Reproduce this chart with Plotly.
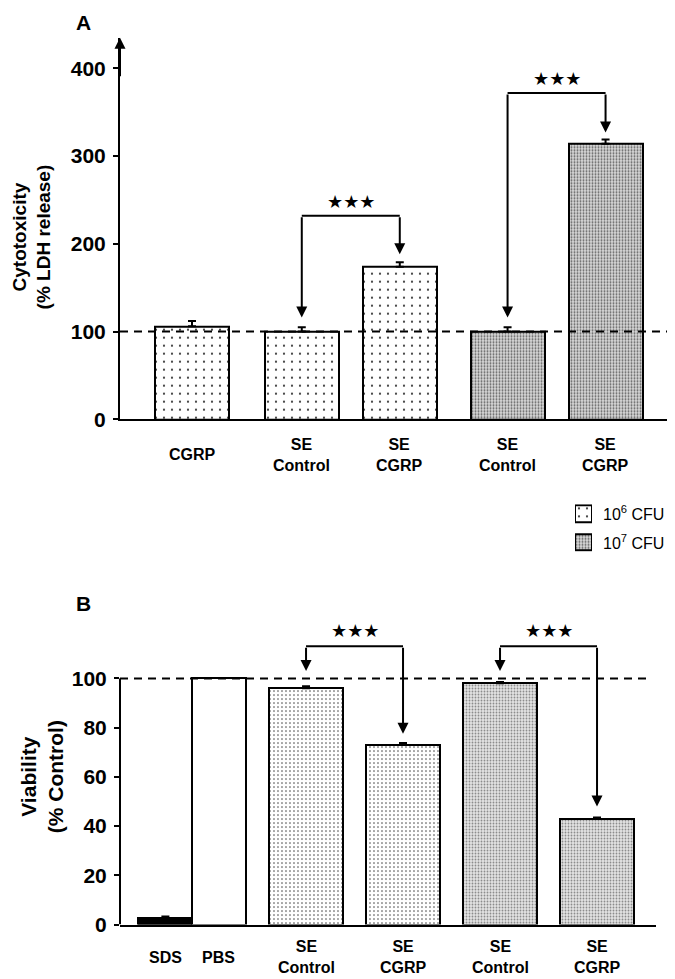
import plotly.graph_objects as go

# ---------------- data ----------------
a_labels = ["CGRP", "SE<br>Control", "SE<br>CGRP", "SE<br>Control", "SE<br>CGRP"]
a_values = [106, 100, 174, 100, 314]
a_errors = [6, 5, 5, 5, 5]
a_dose = ["6", "6", "6", "7", "7"]

b_labels = ["SDS", "PBS", "SE<br>Control", "SE<br>CGRP", "SE<br>Control", "SE<br>CGRP"]
b_values = [2.5, 100, 96, 73, 98, 43]
b_errors = [0.8, 0, 0.8, 0.8, 0.5, 0.5]
b_kind = ["sds", "pbs", "6", "6", "7", "7"]

legend_doses = ["6", "7"]

# ---------------- layout helpers (positions, not data) ----------------
W, H = 675, 979
a_pos = [0, 1.12, 2.12, 3.22, 4.22]
a_width = 0.755
b_pos = [0.55, 1.1, 2, 3, 4, 5]
b_width = [0.557, 0.557, 0.77, 0.77, 0.77, 0.77]

FONT = "Liberation Sans, Arial, sans-serif"


def py(p):
    return 1 - p / H


def px(p):
    return p / W


fig = go.Figure()

styles_a = {
    "6": dict(color="white", pattern=dict(shape=".", size=8, solidity=0.06,
                                          fgcolor="#222", bgcolor="white", fillmode="replace")),
    "7": dict(color="#c0c0c0", pattern=dict(shape=".", size=3, solidity=0.35,
                                            fgcolor="#5e5e5e", bgcolor="#dadada", fillmode="replace")),
}
styles_b = {
    "sds": dict(color="black"),
    "pbs": dict(color="white"),
    "6": dict(color="white", pattern=dict(shape=".", size=4, solidity=0.12,
                                          fgcolor="#333", bgcolor="white", fillmode="replace")),
    "7": dict(color="#d0d0d0", pattern=dict(shape=".", size=3, solidity=0.3,
                                            fgcolor="#8a8a8a", bgcolor="#e4e4e4", fillmode="replace")),
}

# Panel A bars
for dose in ["6", "7"]:
    idx = [i for i, d in enumerate(a_dose) if d == dose]
    fig.add_trace(go.Bar(
        x=[a_pos[i] for i in idx], y=[a_values[i] for i in idx],
        width=a_width, xaxis="x", yaxis="y", showlegend=False,
        marker=dict(line=dict(color="black", width=2), **styles_a[dose]),
        error_y=dict(type="data", symmetric=False, array=[a_errors[i] for i in idx],
                     arrayminus=[0] * len(idx), color="black", thickness=2, width=4),
    ))

# Panel B bars
for kind in ["sds", "pbs", "6", "7"]:
    idx = [i for i, d in enumerate(b_kind) if d == kind]
    fig.add_trace(go.Bar(
        x=[b_pos[i] for i in idx], y=[b_values[i] for i in idx],
        width=[b_width[i] for i in idx], xaxis="x2", yaxis="y2", showlegend=False,
        marker=dict(line=dict(color="black", width=2), **styles_b[kind]),
        error_y=dict(type="data", symmetric=False, array=[b_errors[i] for i in idx],
                     arrayminus=[0] * len(idx), color="black", thickness=2, width=4,
                     visible=any(b_errors[i] > 0 for i in idx)),
    ))

# Legend swatches (patterned boxes on a small hidden axis)
for k, dose in enumerate(legend_doses):
    fig.add_trace(go.Bar(
        x=[0], y=[17], base=[30 - 29 * k], width=1, xaxis="x3", yaxis="y3", showlegend=False,
        marker=dict(line=dict(color="black", width=2), **styles_a[dose]),
        hoverinfo="skip",
    ))

shapes = []
annotations = []

# dashed reference lines
shapes.append(dict(type="line", xref="x domain", yref="y", x0=0, x1=1, y0=100, y1=100,
                   line=dict(color="black", width=2, dash="8px,6px")))
shapes.append(dict(type="line", xref="x2 domain", yref="y2", x0=0, x1=(640 - 112) / (648 - 112),
                   y0=100, y1=100, line=dict(color="black", width=2, dash="8px,6px")))
# panel B y-axis line (only up to 100)
shapes.append(dict(type="line", xref="x2 domain", yref="y2", x0=0, x1=0, y0=0, y1=100,
                   line=dict(color="black", width=2)))

# y-axis arrow for panel A
annotations.append(dict(xref="x domain", yref="y domain", x=0, y=1, ax=0, ay=40,
                        axref="pixel", ayref="pixel", text="", showarrow=True,
                        arrowhead=2, arrowwidth=2, arrowsize=1.1, arrowcolor="black"))


def add_bracket(xr, yr, x0, x1, level, tip0, tip1, star_shift):
    shapes.append(dict(type="line", xref=xr, yref=yr, x0=x0, x1=x1, y0=level, y1=level,
                       line=dict(color="black", width=2)))
    for xx, tip in [(x0, tip0), (x1, tip1)]:
        annotations.append(dict(xref=xr, yref=yr, x=xx, y=tip, ax=xx, ay=level,
                                axref=xr, ayref=yr, text="", showarrow=True,
                                arrowhead=2, arrowwidth=2, arrowsize=1.1, arrowcolor="black"))
    annotations.append(dict(xref=xr, yref=yr, x=(x0 + x1) / 2, y=level, yshift=star_shift,
                            text="★★★", showarrow=False, yanchor="middle", xanchor="center",
                            font=dict(family="DejaVu Sans", size=18, color="black")))


add_bracket("x", "y", a_pos[1], a_pos[2], 232, 116, 188, 14)
add_bracket("x", "y", a_pos[3], a_pos[4], 372, 116, 327, 14)
add_bracket("x2", "y2", b_pos[2], b_pos[3], 113, 103, 77.5, 16)
add_bracket("x2", "y2", b_pos[4], b_pos[5], 113, 103, 48, 16)

# category labels
for p, lab in zip(a_pos, a_labels):
    annotations.append(dict(xref="x", yref="paper", x=p, y=py(452), text=f"<b>{lab}</b>",
                            showarrow=False, yanchor="middle", xanchor="center",
                            font=dict(family=FONT, size=16, color="black")))
for p, lab in zip(b_pos, b_labels):
    annotations.append(dict(xref="x2", yref="paper", x=p, y=py(960), text=f"<b>{lab}</b>",
                            showarrow=False, yanchor="middle", xanchor="center",
                            font=dict(family=FONT, size=16, color="black")))

# legend texts
for k, dose in enumerate(legend_doses):
    annotations.append(dict(xref="paper", yref="paper", x=px(593), y=py(511 + 29 * k),
                            text=f"10<sup>{dose}</sup> CFU", showarrow=False,
                            xanchor="left", yanchor="middle",
                            font=dict(family=FONT, size=16, color="black")))

# panel letters
annotations.append(dict(xref="paper", yref="paper", x=px(75), y=py(15), text="<b>A</b>",
                        showarrow=False, xanchor="center", yanchor="middle",
                        font=dict(family=FONT, size=21, color="black")))
annotations.append(dict(xref="paper", yref="paper", x=px(75), y=py(602), text="<b>B</b>",
                        showarrow=False, xanchor="center", yanchor="middle",
                        font=dict(family=FONT, size=21, color="black")))

# y titles
annotations.append(dict(xref="paper", yref="paper", x=px(24), y=py(232), textangle=-90,
                        text="<b>Cytotoxicity<br>(% LDH release)</b>", showarrow=False,
                        xanchor="center", yanchor="middle",
                        font=dict(family=FONT, size=19, color="black")))
annotations.append(dict(xref="paper", yref="paper", x=px(34), y=py(778), textangle=-90,
                        text="<b>Viability<br>(% Control)</b>", showarrow=False,
                        xanchor="center", yanchor="middle",
                        font=dict(family=FONT, size=21, color="black")))

yaxis_common = dict(ticks="outside", ticklen=5, tickwidth=2, tickcolor="black",
                    tickfont=dict(family=FONT, size=21, color="black", weight="bold"),
                    showgrid=False, zeroline=False, ticklabelstandoff=3)

hidden = dict(visible=False, showgrid=False, zeroline=False, fixedrange=True)

fig.update_layout(
    width=W, height=H, margin=dict(l=0, r=0, t=0, b=0),
    paper_bgcolor="white", plot_bgcolor="rgba(0,0,0,0)",
    bargap=0, barmode="overlay", showlegend=False,
    xaxis=dict(domain=[px(112), px(673)], range=[-0.735, (673 - 184) / 98], showticklabels=False,
               ticks="", showline=True, linecolor="black", linewidth=2, showgrid=False,
               zeroline=False, anchor="y"),
    yaxis=dict(domain=[py(416), py(30)], range=[0, 435], tickvals=[0, 100, 200, 300, 400],
               showline=True, linecolor="black", linewidth=2, anchor="x", **yaxis_common),
    xaxis2=dict(domain=[px(112), px(648)], range=[0.082, 5.608], showticklabels=False,
                ticks="", showline=True, linecolor="black", linewidth=2, showgrid=False,
                zeroline=False, anchor="y2"),
    yaxis2=dict(domain=[py(927), py(620)], range=[0, (927 - 620) / 2.49],
                tickvals=[0, 20, 40, 60, 80, 100], showline=False, anchor="x2", **yaxis_common),
    xaxis3=dict(domain=[px(567), px(584)], range=[-0.5, 0.5], anchor="y3", **hidden),
    yaxis3=dict(domain=[py(550), py(502)], range=[0, 48], anchor="x3", **hidden),
    shapes=shapes, annotations=annotations,
)

fig.write_html("out.html")
